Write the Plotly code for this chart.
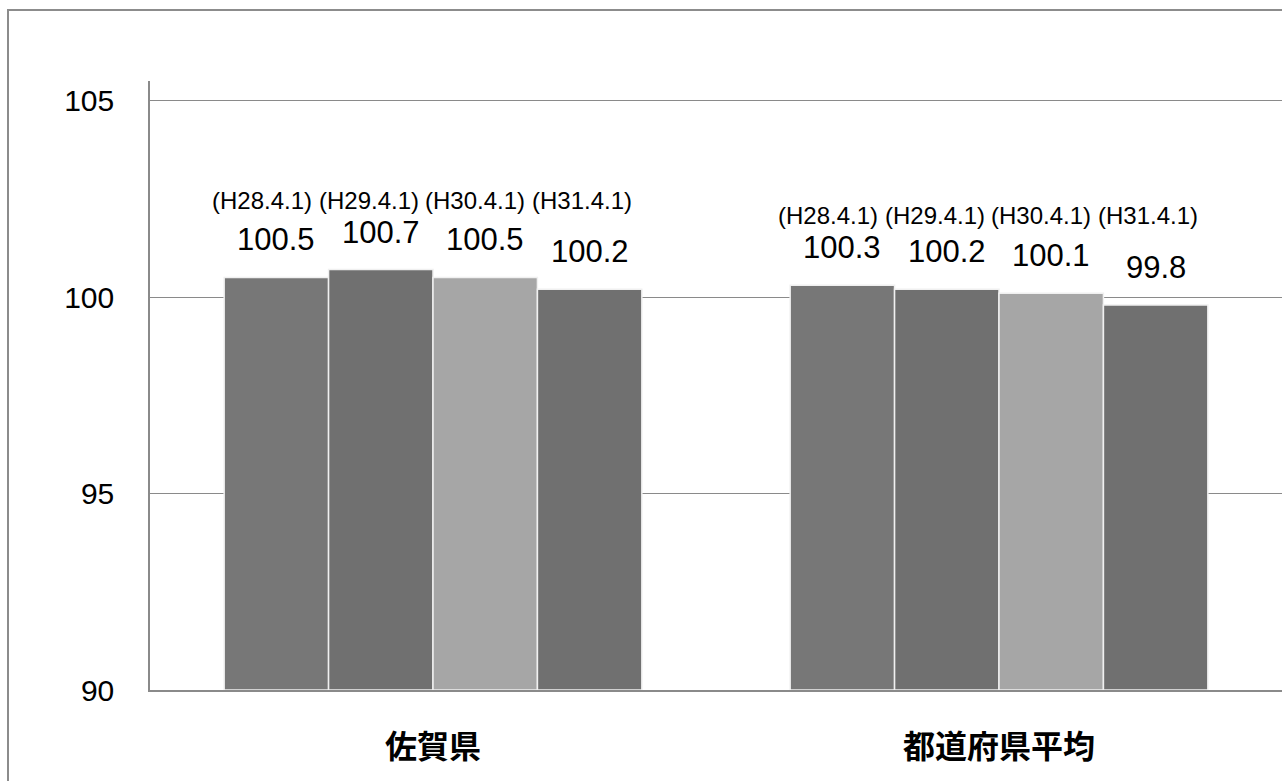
import plotly.graph_objects as go

categories = ["佐賀県", "都道府県平均"]
series_names = ["(H28.4.1)", "(H29.4.1)", "(H30.4.1)", "(H31.4.1)"]
values = [
    [100.5, 100.3],
    [100.7, 100.2],
    [100.5, 100.1],
    [100.2, 99.8],
]
colors = ["#777777", "#707070", "#a6a6a6", "#707070"]
y_ticks = [90, 95, 100, 105]
BASE = 90

FONT = "Liberation Sans, Arial, sans-serif"
CJK = "Noto Sans CJK JP, sans-serif"

fig = go.Figure()
for name, vals, col in zip(series_names, values, colors):
    fig.add_trace(go.Bar(
        x=categories, y=[v - BASE for v in vals], base=BASE, name=name,
        marker=dict(color=col, line=dict(color="#f0f0f0", width=1.5)),
        showlegend=False, hoverinfo="skip",
    ))

L, R, T, B = 150, 0, 81, 91
W, H = 1282, 781
plot_w = W - L - R
n = len(series_names)
bar_px = plot_w / len(categories) * 0.738 / n

annotations = []
for gi, cat in enumerate(categories):
    gmax = max(values[j][gi] for j in range(n))
    for j in range(n):
        off = (j - (n - 1) / 2) * bar_px
        v = values[j][gi]
        annotations.append(dict(
            x=cat, y=v, xref="x", yref="y", xshift=off, yshift=18,
            text=f"{v:.1f}", showarrow=False, yanchor="bottom",
            font=dict(family=FONT, size=31, color="#000000"),
        ))
        annotations.append(dict(
            x=cat, y=gmax, xref="x", yref="y", xshift=off * 1.02 - 11, yshift=54,
            text=series_names[j], showarrow=False, yanchor="bottom",
            font=dict(family=FONT, size=24, color="#000000"),
        ))

fig.update_layout(
    width=W, height=H,
    margin=dict(l=L, r=R, t=T, b=B),
    paper_bgcolor="white", plot_bgcolor="white",
    barmode="group", bargap=0.262, bargroupgap=0,
    annotations=annotations,
    xaxis=dict(
        type="category", showgrid=False, showline=True,
        linecolor="#8a8a8a", linewidth=1.5, ticks="",
        tickfont=dict(family=CJK, size=32, color="#000000", weight="bold"),
        ticklabelstandoff=28,
    ),
    yaxis=dict(
        range=[90, 105.5], tickvals=y_ticks,
        ticktext=[str(t) for t in y_ticks],
        showgrid=True, gridcolor="#8a8a8a", gridwidth=1,
        showline=True, linecolor="#8a8a8a", linewidth=1.5,
        ticks="", zeroline=False,
        tickfont=dict(family=FONT, size=30, color="#000000"),
        ticklabelstandoff=28,
    ),
    shapes=[dict(
        type="rect", xref="paper", yref="paper",
        x0=(8 - L) / plot_w, x1=(W + 20 - L) / plot_w,
        y0=-(B + 20) / (H - T - B), y1=1 + (T - 10) / (H - T - B),
        line=dict(color="#8c8c8c", width=2), fillcolor="rgba(0,0,0,0)",
        layer="below",
    )],
)

fig.write_html("out.html")
